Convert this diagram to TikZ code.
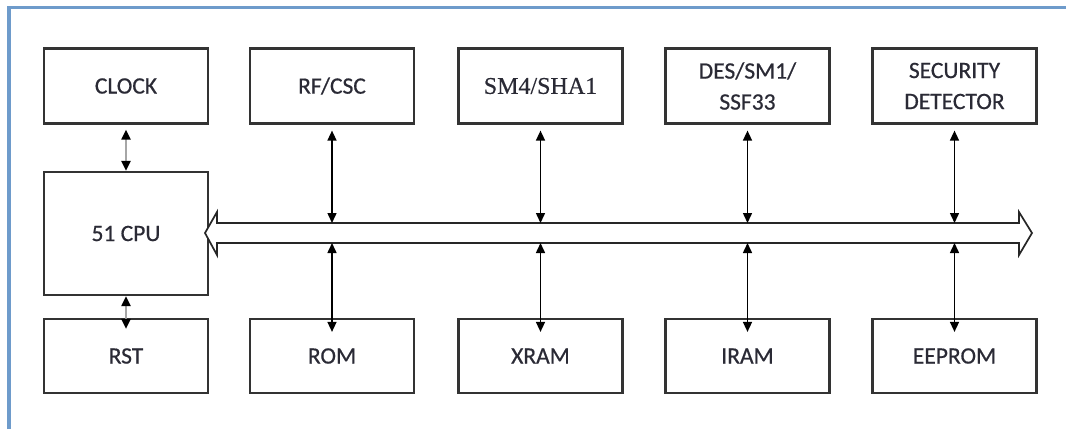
\documentclass[tikz,border=0pt]{standalone}
\usepackage{fontspec}
\setmainfont[FakeBold=0.6]{Carlito}
\newfontfamily\seriffont[FakeBold=0.4]{Liberation Serif}
\usetikzlibrary{arrows.meta}
\definecolor{framec}{HTML}{6E9BCB}
\definecolor{txt}{HTML}{2A2A35}
\begin{document}
\begin{tikzpicture}[x=1pt,y=-1pt,
  blk/.style={draw=black!80,line width=2.2pt,minimum width=164pt,minimum height=75pt,
    inner sep=0pt,font=\fontsize{23.5}{31}\selectfont,text=txt,align=center},
  link/.style={line width=1.5pt,{Triangle[width=9pt,length=10pt]}-{Triangle[width=9pt,length=10pt]}},
  glink/.style={line width=2pt,draw=black!35,
    {Triangle[width=9pt,length=10pt,color=black]}-{Triangle[width=9pt,length=10pt,color=black]}},
  busline/.style={draw=black!85,line width=1.7pt,fill=white,line join=miter}]
\useasboundingbox (0,0) rectangle (1066,429);
\draw[framec,line width=3.5pt] (9,429) -- (9,7.5) -- (1066,7.5);

% boxes
\node[blk] (clock) at (126,86) {CLOCK};
\node[blk,minimum height=123pt] (cpu) at (126,233.5) {51 CPU};
\node[blk,minimum height=74pt] (rst) at (126,356) {RST};
\node[blk] (rf) at (332,86) {RF/CSC};
\node[blk,font=\seriffont\fontsize{24}{30}\selectfont] (sm4) at (540.5,86) {SM4/SHA1};
\node[blk] (des) at (747.5,86) {DES/SM1/\\SSF33};
\node[blk] (sec) at (954.5,86) {SECURITY\\DETECTOR};
\node[blk,minimum height=74pt] (rom) at (332,356) {ROM};
\node[blk,minimum height=74pt] (xram) at (540.5,356) {XRAM};
\node[blk,minimum height=74pt] (iram) at (747.5,356) {IRAM};
\node[blk,minimum height=74pt] (eeprom) at (954.5,356) {EEPROM};

% bus
\draw[busline] (205,233) -- (217,212) -- (217,223) -- (1019,223) -- (1019,212)
  -- (1032,233) -- (1019,255) -- (1019,243) -- (217,243) -- (217,255) -- cycle;
\coordinate (bt) at (0,223);
\coordinate (bb) at (0,243);

% connectors
\draw[glink,shorten <=5pt] (clock.south) -- (cpu.north);
\draw[glink,shorten >=-11pt] (cpu.south) -- (rst.north);
\foreach \n in {rf,sm4,des,sec}
  \draw[link,shorten <=6pt] (\n.south) -- (\n.south |- bt);
\foreach \n in {rom,xram,iram,eeprom}
  \draw[link,shorten >=-14pt] (\n.north |- bb) -- (\n.north);
\end{tikzpicture}
\end{document}
